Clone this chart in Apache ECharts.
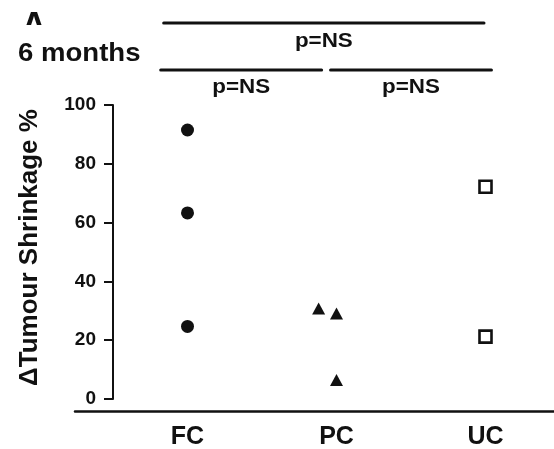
<!DOCTYPE html>
<html>
<head>
<meta charset="utf-8">
<script src="https://cdn.jsdelivr.net/npm/echarts@6/dist/echarts.min.js"></script>
<style>
  html, body { margin: 0; padding: 0; background: #fff; }
  #chart { width: 554px; height: 449px; }
</style>
</head>
<body>
<div id="chart"></div>
<script>
// Groups and measured tumour shrinkage at 6 months
const categories = ['FC', 'PC', 'UC'];
const fcValues = [91.5, 63.3, 24.7];
const pcValues = [30.8, 29.1, 6.5];
const pcPositions = [1.88, 2.0, 2.0];   // horizontal spread of the PC points
const ucValues = [72.2, 21.2];
const yTicks = [0, 20, 40, 60, 80, 100];

// Comparison brackets: [from, to] in group units, with their p value
const brackets = [
  { span: [0.84, 2.99], row: 0, label: 'p=NS' },
  { span: [0.82, 1.90], row: 1, label: 'p=NS' },
  { span: [1.96, 3.04], row: 1, label: 'p=NS' }
];

const ink = '#111';
const font = 'Liberation Sans, Arial, sans-serif';

const chart = echarts.init(document.getElementById('chart'), null, { renderer: 'canvas' });

const option = {
  backgroundColor: '#fff',
  animation: false,
  grid: [
    { left: 113, width: 447, top: 105, bottom: 50, outerBoundsMode: 'none', containLabel: false },
    { left: 75, right: 0, top: 105, bottom: 38, outerBoundsMode: 'none', containLabel: false }
  ],
  xAxis: [
    {
      type: 'category', gridIndex: 0, data: categories, boundaryGap: true,
      axisLine: { show: false }, axisTick: { show: false },
      axisLabel: { color: ink, fontFamily: font, fontWeight: 'bold', fontSize: 25, margin: 26 }
    },
    {
      type: 'value', gridIndex: 0, min: 0.5, max: 3.5, show: false
    },
    {
      type: 'value', gridIndex: 1, min: 0, max: 1,
      axisLine: { show: true, lineStyle: { color: ink, width: 2.5 } },
      axisTick: { show: false }, axisLabel: { show: false }, splitLine: { show: false }
    }
  ],
  yAxis: [
    {
      type: 'value', gridIndex: 0, min: yTicks[0], max: yTicks[yTicks.length - 1], interval: 20,
      name: 'ΔTumour Shrinkage %', nameLocation: 'middle', nameGap: 70,
      nameTextStyle: { color: ink, fontFamily: font, fontWeight: 'bold', fontSize: 26, padding: [0, 0, 0, 9] },
      axisLine: { show: true, lineStyle: { color: ink, width: 2 } },
      axisTick: { show: true, inside: false, length: 9, lineStyle: { color: ink, width: 2 } },
      axisLabel: { color: ink, fontFamily: font, fontWeight: 'bold', fontSize: 19, margin: 17 },
      splitLine: { show: false }
    },
    { type: 'value', gridIndex: 1, min: 0, max: 1, show: false }
  ],
  series: [
    {
      name: 'FC', type: 'scatter', xAxisIndex: 1, yAxisIndex: 0,
      symbol: 'circle', symbolSize: 13,
      itemStyle: { color: ink, opacity: 1 },
      data: fcValues.map(v => [1, v])
    },
    {
      name: 'PC', type: 'scatter', xAxisIndex: 1, yAxisIndex: 0,
      symbol: 'triangle', symbolSize: [13, 12],
      itemStyle: { color: ink, opacity: 1 },
      data: pcValues.map((v, i) => [pcPositions[i], v])
    },
    {
      name: 'UC', type: 'scatter', xAxisIndex: 1, yAxisIndex: 0,
      symbol: 'rect', symbolSize: 12,
      itemStyle: { color: '#fff', borderColor: ink, borderWidth: 2.6, opacity: 1 },
      data: ucValues.map(v => [3, v])
    }
  ]
};

chart.setOption(option);

// Bracket lines and labels placed along the group axis
const rowY = [23, 70];
const labelY = [41, 87];
const graphics = [];
brackets.forEach(b => {
  const x1 = chart.convertToPixel({ xAxisIndex: 1 }, b.span[0]);
  const x2 = chart.convertToPixel({ xAxisIndex: 1 }, b.span[1]);
  graphics.push({
    type: 'line', shape: { x1: x1, y1: rowY[b.row], x2: x2, y2: rowY[b.row] },
    style: { stroke: ink, lineWidth: 3, lineCap: 'round' }
  });
  graphics.push({
    type: 'text', x: (x1 + x2) / 2, y: labelY[b.row], scaleX: 1.12,
    style: { text: b.label, fill: ink, font: 'bold 20px ' + font, textAlign: 'center', textVerticalAlign: 'middle' }
  });
});

// Panel heading
graphics.push({
  type: 'text', x: 18, y: 54, scaleX: 1.06,
  style: { text: '6 months', fill: ink, font: 'bold 26px ' + font, textAlign: 'left', textVerticalAlign: 'middle' }
});
// Panel letter, partly hidden behind the heading band
graphics.push({
  type: 'text', x: 34, y: 28, z: 1,
  style: { text: 'A', fill: ink, font: 'bold 36px ' + font, textAlign: 'center', textVerticalAlign: 'middle' }
});
graphics.push({
  type: 'rect', z: 2, shape: { x: 10, y: 25, width: 40, height: 16 },
  style: { fill: '#fff' }
});

chart.setOption({ graphic: graphics });
</script>
</body>
</html>
